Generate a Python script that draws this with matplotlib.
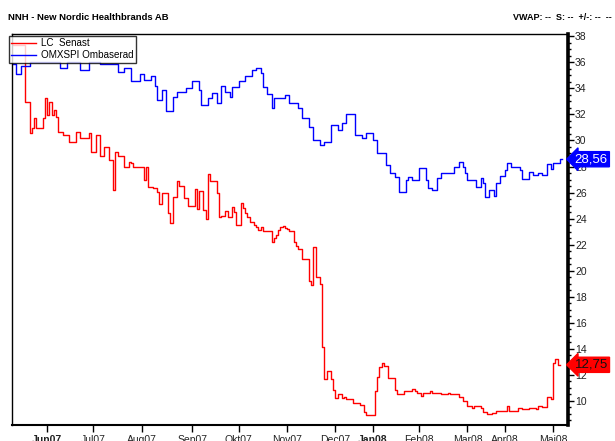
import numpy as np
import matplotlib
matplotlib.use("Agg")
import matplotlib.pyplot as plt
from matplotlib.ticker import MultipleLocator, FixedLocator
import matplotlib.transforms as mtransforms

plt.rcParams['font.family'] = ['Liberation Sans', 'DejaVu Sans']

# ---- data (x = trading-day index, y = price) ----
omx_days = [0, 2, 4, 8, 22, 25, 31, 35, 40, 48, 51, 54, 58, 60, 63, 65, 66, 68, 70, 73,
            75, 79, 82, 85, 86, 89, 91, 93, 95, 97, 99, 100, 103, 106, 109, 111, 113, 114,
            116, 118, 119, 124, 126, 130, 132, 135, 137, 140, 142, 145, 148, 150, 152, 156,
            159, 161, 164, 166, 170, 172, 174, 176, 179, 180, 182, 185, 188, 189, 191, 193,
            195, 200, 201, 203, 205, 206, 207, 211, 213, 214, 215, 217, 219, 220, 222, 224,
            225, 227, 231, 232, 235, 237, 239, 241, 243, 245, 246, 249]
omx_vals = [35.88, 35.12, 35.73, 36.04, 35.58, 36.04, 35.42, 36.04, 35.88, 35.27, 35.58,
            34.58, 35.12, 34.65, 34.96, 34.19, 33.12, 33.88, 32.27, 33.35, 33.73, 34.04,
            34.58, 33.88, 32.73, 33.27, 33.65, 32.88, 34.19, 33.73, 33.35, 34.12, 34.58,
            34.96, 35.42, 35.58, 35.19, 34.12, 33.58, 32.50, 33.27, 33.50, 32.88, 32.50,
            31.73, 31.04, 30.04, 29.65, 29.88, 31.19, 30.81, 31.35, 32.04, 30.42, 30.19,
            30.58, 30.04, 29.04, 28.12, 27.50, 27.19, 26.04, 26.96, 27.19, 26.96, 27.88,
            26.96, 26.35, 26.19, 27.12, 27.50, 27.50, 27.96, 28.35, 27.96, 27.50, 26.96,
            26.42, 27.12, 26.73, 25.65, 26.19, 25.73, 26.73, 27.27, 27.73, 28.27, 27.96,
            27.73, 27.04, 27.58, 27.35, 27.50, 27.35, 28.19, 27.81, 28.27, 28.56]

lc_days = [0, 6, 8, 9, 10, 11, 14, 15, 16, 17, 18, 19, 20, 21, 23, 26, 29, 31, 35, 36,
           38, 40, 42, 44, 46, 47, 48, 51, 53, 54, 55, 60, 61, 62, 64, 66, 67, 68, 71, 72,
           73, 75, 76, 78, 80, 83, 84, 85, 87, 88, 89, 90, 93, 94, 95, 97, 98, 100, 101,
           102, 104, 105, 106, 107, 108, 110, 111, 112, 113, 114, 118, 119, 120, 121, 122,
           123, 124, 125, 126, 128, 129, 130, 132, 135, 136, 137, 138, 140, 141, 142, 143,
           145, 146, 147, 148, 150, 151, 152, 155, 158, 160, 161, 165, 166, 167, 168, 169,
           171, 174, 175, 178, 182, 183, 184, 186, 187, 190, 191, 195, 198, 199, 203, 205,
           207, 209, 210, 213, 214, 216, 218, 220, 225, 226, 230, 232, 235, 238, 239, 241,
           243, 245, 246, 247, 248]
lc_vals = [37.35, 32.96, 30.58, 30.96, 31.73, 30.96, 31.73, 33.27, 31.96, 32.96, 31.96,
           32.35, 31.81, 30.65, 30.42, 29.88, 30.65, 30.19, 30.58, 29.12, 30.42, 28.81,
           29.50, 28.50, 26.19, 29.12, 28.81, 27.96, 28.35, 28.27, 27.96, 26.96, 27.96,
           26.42, 26.35, 26.04, 25.12, 25.96, 24.42, 23.65, 25.65, 26.88, 26.50, 25.58,
           24.96, 26.27, 24.73, 26.12, 24.65, 23.96, 27.42, 26.88, 25.96, 24.12, 24.19,
           24.58, 24.12, 24.88, 24.50, 23.50, 25.19, 24.81, 24.42, 24.12, 23.73, 23.50,
           23.35, 23.12, 23.35, 23.04, 22.19, 22.50, 22.73, 23.12, 23.35, 23.42, 23.27,
           23.19, 23.04, 22.19, 21.88, 21.65, 20.88, 19.19, 18.88, 21.81, 19.50, 18.96,
           14.12, 11.65, 12.27, 11.65, 10.81, 10.19, 10.50, 10.19, 10.27, 10.12, 9.81,
           9.65, 9.12, 8.88, 10.73, 11.81, 12.58, 12.88, 12.65, 11.73, 10.81, 10.50,
           10.73, 10.88, 10.73, 10.58, 10.35, 10.58, 10.73, 10.58, 10.50, 10.58, 10.50,
           10.27, 9.96, 9.58, 9.42, 9.58, 9.42, 9.12, 8.96, 9.04, 9.19, 9.58, 9.19, 9.42,
           9.35, 9.42, 9.35, 9.58, 9.50, 10.27, 10.12, 12.88, 13.19, 12.75]

month_labels = ["Jun07", "Jul07", "Aug07", "Sep07", "Okt07", "Nov07", "Dec07",
                "Jan08", "Feb08", "Mar08", "Apr08", "Mai08"]
month_days = [16, 37, 59, 82, 103, 125, 147, 164, 185, 207, 224, 246]
bold_months = ["Jun07", "Jan08"]

lc_label = "LC  Senast"
omx_label = "OMXSPI Ombaserad"
lc_last = "12,75"
omx_last = "28,56"

# ---- figure ----
W, H = 615, 441
fig = plt.figure(figsize=(W / 100, H / 100), dpi=100)
fig.patch.set_facecolor("white")
ax = fig.add_axes([12 / W, 1 - 425 / H, (568 - 12) / W, (425 - 34) / H])

lc_x = np.append(lc_days, lc_days[-1] + 1)
lc_y = np.append(lc_vals, lc_vals[-1])
omx_x = np.append(omx_days, omx_days[-1] + 1)
omx_y = np.append(omx_vals, omx_vals[-1])

l1, = ax.plot(lc_x, lc_y, drawstyle="steps-post", color="#FF0000", lw=1.0, label=lc_label)
l2, = ax.plot(omx_x, omx_y, drawstyle="steps-post", color="#0000FF", lw=1.0, label=omx_label)

ax.set_xlim(0, 252.7)
ax.set_ylim(8.12, 38.19)

for s in ["left", "top", "bottom"]:
    ax.spines[s].set_linewidth(1.0)
    ax.spines[s].set_color("black")
ax.spines["bottom"].set_linewidth(1.5)
ax.spines["right"].set_linewidth(2.6)
ax.spines["right"].set_color("black")

ax.yaxis.tick_right()
ax.yaxis.set_major_locator(MultipleLocator(2))
ax.yaxis.set_minor_locator(MultipleLocator(0.5))
ax.tick_params(axis="y", which="major", direction="out", length=4, width=1,
               labelsize=7.5, pad=1, colors="black", labelcolor="#222222")
ax.tick_params(axis="y", which="minor", direction="out", length=2.5, width=1)
ax.set_yticks([v for v in range(10, 39, 2)])
ax.set_yticklabels([str(v) for v in range(10, 39, 2)])

ax.xaxis.set_major_locator(FixedLocator(month_days))
ax.set_xticklabels(month_labels)
ax.tick_params(axis="x", which="major", direction="out", length=5, width=1,
               labelsize=7.5, pad=2.5, labelcolor="#222222")
for lab in ax.get_xticklabels():
    if lab.get_text() in bold_months:
        lab.set_fontweight("bold")

# legend
leg = fig.legend(handles=[l1, l2], loc="upper left",
                 bbox_to_anchor=(9 / W, 1 - 36 / H), fontsize=7.1,
                 frameon=True, fancybox=False, borderpad=0.25, labelspacing=0.2,
                 handlelength=2.5, handletextpad=0.5, borderaxespad=0)
leg.get_frame().set_edgecolor("black")
leg.get_frame().set_linewidth(1.0)

# title texts
fig.text(8 / W, 1 - 17 / H, "NNH - New Nordic Healthbrands AB", fontsize=6.8,
         fontweight="bold", ha="left", va="center")
fig.text(612 / W, 1 - 17 / H, "VWAP: --  S: --  +/-: --  --", fontsize=6.5,
         fontweight="bold", ha="right", va="center")

# last-value tags
trans = mtransforms.blended_transform_factory(ax.transAxes, ax.transData)
ax.text(1.012, omx_vals[-1], omx_last, transform=trans, color="white", fontsize=9.5,
        va="center", ha="left", clip_on=False, zorder=10,
        bbox=dict(boxstyle="larrow,pad=0.12", fc="#0000FF", ec="#0000FF"))
ax.text(1.012, lc_vals[-1], lc_last, transform=trans, color="#111111", fontsize=9.5,
        va="center", ha="left", clip_on=False, zorder=10,
        bbox=dict(boxstyle="larrow,pad=0.12", fc="#FF0000", ec="#FF0000"))

fig.savefig("out.png", dpi=100, facecolor="white")
